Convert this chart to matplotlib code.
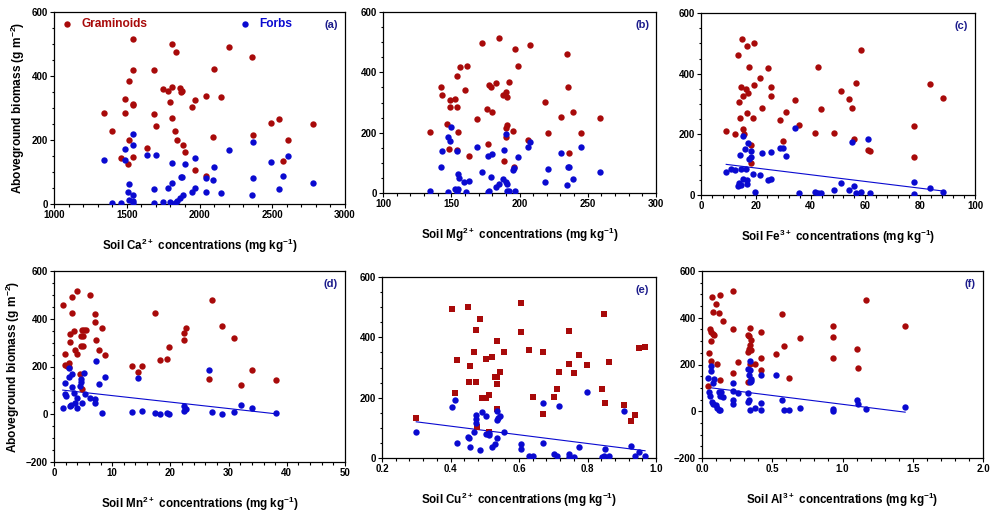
import numpy as np
import matplotlib
matplotlib.use("Agg")
import matplotlib.pyplot as plt
from matplotlib.ticker import AutoMinorLocator, MultipleLocator

plt.rcParams["font.family"] = ["Liberation Sans", "DejaVu Sans"]
plt.rcParams["font.weight"] = "bold"
plt.rcParams["mathtext.fontset"] = "custom"
plt.rcParams["mathtext.bf"] = "Liberation Sans:bold"
plt.rcParams["mathtext.rm"] = "Liberation Sans:bold"
plt.rcParams["mathtext.default"] = "bf"

RED = "#a80a0a"
BLUE = "#0a0ad0"
NAVY = "#1c1c8c"

# (a) Ca
ca_gram_x = [1343, 1402, 1458, 1490, 1490, 1513, 1517, 1508, 1540, 1540, 1540, 1540, 1545, 1642, 1685, 1685,
             1699, 1750, 1784, 1796, 1812, 1812, 1812, 1830, 1837, 1846, 1863, 1874, 1883, 1885, 1897, 1950,
             1966, 1971, 2044, 2044, 2095, 2102, 2145, 2203, 2362, 2366, 2493, 2548, 2571, 2610, 2780]
ca_gram_y = [285, 229, 143, 327, 285, 385, 200, 124, 515, 420, 314, 308, 146, 175, 418, 280,
             245, 359, 352, 319, 499, 367, 270, 227, 476, 201, 364, 351, 354, 183, 163, 304,
             325, 105, 86, 339, 209, 422, 335, 491, 459, 215, 252, 267, 133, 200, 250]
ca_forb_x = [1343, 1402, 1458, 1490, 1490, 1513, 1508, 1517, 1540, 1545, 1540, 1540, 1540, 1642, 1699, 1685,
             1685, 1750, 1784, 1796, 1812, 1812, 1830, 1846, 1863, 1874, 1883, 1885, 1897, 1950, 1966, 1966,
             2044, 2044, 2095, 2102, 2145, 2203, 2362, 2366, 2366, 2493, 2548, 2571, 2610, 2780]
ca_forb_y = [136, 4, 4, 172, 138, 64, 39, 12, 220, 183, 28, 9, 4, 153, 153, 47,
             3, 5, 50, 7, 129, 67, 2, 9, 19, 84, 84, 28, 124, 36, 143, 50,
             81, 36, 75, 116, 34, 170, 27, 80, 194, 131, 47, 87, 151, 67]

# (b) Mg
mg_gram_x = [134.5, 142.5, 143, 147, 148, 149.4, 149, 153, 154, 154.5, 155, 154, 156.5, 160, 161.5, 163,
             169, 172.5, 176, 177, 178, 179, 180, 183, 185, 188, 188.5, 189.8, 190, 190.5, 191, 190,
             192, 195.5, 196, 197, 199, 206, 208, 219, 220.8, 230.6, 234.5, 235.5, 236.5, 239, 244.7, 259]
mg_gram_y = [202, 353, 325, 230, 146, 309, 285, 311, 285, 387, 202, 144, 417, 340, 420, 124,
             245, 498, 280, 163, 358, 353, 270, 363, 514, 324, 105, 335, 215, 227, 318, 184,
             367, 207, 86, 477, 422, 176, 491, 303, 200, 253, 460, 350, 133, 267, 200, 250]
mg_forb_x = [134.5, 142.5, 143, 147.7, 149, 149.6, 147.5, 154, 154.7, 156, 153, 155, 154.5, 159.7, 163, 161,
             169, 172.4, 176.8, 179.7, 179, 176.7, 178, 183, 185, 188, 188.5, 190, 190, 190.5, 190.5, 191.5,
             192.5, 195.5, 196, 199, 197, 206, 208, 219, 220.8, 230.6, 234.5, 235.5, 236.5, 239, 244.7, 259]
mg_forb_y = [8, 85, 139, 185, 174, 220, 3, 138, 64, 49, 14, 13, 4, 36, 41, 4,
             154, 68, 124, 128, 52, 2, 7, 20, 31, 48, 143, 194, 35, 29, 7, 2,
             7, 75, 83, 118, 8, 154, 170, 37, 80, 131, 28, 85, 87, 47, 151, 68]

# (c) Fe
fe_gram_x = [9.2, 12.3, 13.4, 13.8, 14.4, 14.5, 14.9, 15.5, 15.5, 15.8, 16.3, 16.8, 16.8, 17.0, 17.4, 18.1,
             18.1, 19.1, 19.2, 19.5, 21.5, 22.3, 24.6, 25.6, 25.6, 28.7, 29.9, 31.0, 34.3, 35.9, 41.6, 42.6,
             43.9, 48.7, 51.2, 54.0, 55.1, 55.9, 56.6, 58.3, 61.1, 61.8, 77.9, 77.9, 83.6, 88.5]
fe_gram_y = [210, 201, 460, 305, 254, 355, 515, 326, 218, 200, 351, 492, 269, 336, 423, 166,
             107, 254, 500, 361, 387, 286, 418, 355, 328, 247, 177, 273, 312, 232, 204, 423,
             282, 204, 342, 315, 287, 186, 368, 479, 148, 145, 229, 124, 366, 321]
fe_forb_x = [9.2, 11.1, 12.3, 13.4, 13.8, 14.4, 14.6, 14.6, 15.3, 15.5, 15.9, 16.3, 16.7, 16.9, 17.0, 17.4,
             18.1, 18.1, 19.1, 19.6, 21.5, 22.3, 24.6, 25.6, 25.6, 28.7, 29.9, 31.0, 34.3, 35.9, 41.6, 42.6,
             43.9, 48.7, 51.2, 54.0, 55.1, 55.9, 56.6, 58.3, 61.1, 61.8, 77.9, 77.9, 83.6, 88.5]
fe_forb_y = [76, 85, 83, 30, 38, 133, 32, 87, 195, 52, 152, 86, 50, 36, 172, 118,
             146, 124, 70, 9, 66, 139, 50, 52, 141, 156, 156, 130, 222, 8, 10, 8,
             6, 15, 40, 15, 175, 31, 6, 10, 185, 8, 42, 3, 22, 9]

# (d) Mn
mn_gram_x = [1.5, 1.9, 1.9, 2.15, 2.56, 2.6, 2.7, 2.8, 3.05, 3.05, 3.5, 3.66, 3.95, 4.0, 4.5, 4.6,
             4.6, 4.76, 4.76, 4.9, 5.05, 5.2, 5.5, 6.2, 7.0, 7.1, 7.3, 7.8, 8.25, 8.7, 13.4, 14.5,
             15.1, 17.4, 18.2, 19.35, 19.8, 22.3, 22.4, 22.6, 26.6, 27.1, 28.8, 30.9, 32.1, 34.0, 38.2]
mn_gram_y = [459, 252, 207, 204, 197, 216, 335, 303, 491, 422, 349, 268, 517, 252, 167, 326,
             287, 352, 105, 328, 286, 354, 354, 500, 387, 419, 310, 270, 360, 248, 202, 177,
             202, 422, 227, 230, 282, 312, 342, 363, 146, 478, 368, 321, 123, 184, 144]
mn_forb_x = [1.5, 1.9, 1.9, 2.0, 2.56, 2.6, 2.7, 2.85, 3.05, 3.05, 3.5, 3.66, 3.95, 4.0, 4.5, 4.6,
             4.7, 4.76, 5.2, 5.3, 6.2, 7.0, 7.1, 7.3, 7.8, 8.25, 8.7, 13.4, 14.5, 15.1, 17.4, 18.2,
             19.35, 19.8, 22.3, 22.4, 22.6, 26.6, 27.1, 28.8, 30.9, 32.1, 34.0, 38.2]
mn_forb_y = [27, 132, 85, 76, 193, 155, 35, 38, 170, 116, 87, 49, 28, 66, 120, 134,
             146, 49, 174, 85, 69, 64, 49, 221, 128, 6, 155, 8, 153, 14, 6, 0,
             4, 3, 14, 36, 21, 184, 8, 3, 8, 39, 28, 4]

# (e) Cu
cu_gram_x = [0.300, 0.404, 0.413, 0.418, 0.451, 0.454, 0.458, 0.468, 0.475, 0.475, 0.476, 0.487, 0.493, 0.503,
             0.504, 0.511, 0.511, 0.522, 0.530, 0.536, 0.536, 0.536, 0.536, 0.545, 0.557, 0.606, 0.606, 0.628,
             0.640, 0.670, 0.671, 0.703, 0.710, 0.718, 0.746, 0.747, 0.762, 0.776, 0.798, 0.842, 0.849, 0.850,
             0.864, 0.907, 0.928, 0.938, 0.951, 0.968]
cu_gram_y = [134, 493, 216, 325, 501, 251, 304, 350, 423, 252, 104, 460, 199, 199,
             327, 209, 86, 336, 267, 245, 270, 387, 164, 285, 352, 515, 418, 359,
             201, 352, 146, 201, 230, 285, 421, 313, 281, 341, 309, 228, 477, 183,
             319, 176, 124, 144, 364, 368]
cu_forb_x = [0.300, 0.404, 0.413, 0.418, 0.451, 0.454, 0.458, 0.468, 0.475, 0.475, 0.475, 0.487, 0.493, 0.503,
             0.504, 0.511, 0.511, 0.522, 0.530, 0.536, 0.536, 0.536, 0.540, 0.545, 0.557, 0.606, 0.606, 0.628,
             0.640, 0.670, 0.671, 0.703, 0.710, 0.718, 0.746, 0.747, 0.762, 0.776, 0.798, 0.842, 0.849, 0.850,
             0.864, 0.907, 0.928, 0.938, 0.951, 0.968]
cu_forb_y = [87, 170, 193, 50, 69, 67, 38, 85, 144, 130, 116, 28, 152, 139,
             80, 82, 76, 35, 48, 65, 155, 125, 131, 138, 85, 48, 30, 7,
             7, 183, 49, 13, 6, 173, 12, 4, 4, 36, 220, 2, 8, 29,
             8, 155, 40, 6, 20, 6]

# (f) Al
al_gram_x = [0.040, 0.052, 0.054, 0.064, 0.069, 0.066, 0.066, 0.076, 0.078, 0.088, 0.102, 0.107, 0.121, 0.130,
             0.130, 0.152, 0.223, 0.220, 0.223, 0.256, 0.325, 0.329, 0.329, 0.334, 0.334, 0.339, 0.339, 0.344,
             0.346, 0.348, 0.374, 0.417, 0.417, 0.417, 0.529, 0.571, 0.585, 0.619, 0.697, 0.931, 0.931, 0.931,
             1.102, 1.111, 1.166, 1.446]
al_gram_y = [106, 251, 350, 337, 490, 216, 301, 423, 330, 326, 459, 201, 419, 497,
             133, 386, 516, 353, 164, 209, 123, 327, 253, 267, 320, 201, 356, 284,
             264, 304, 201, 340, 229, 176, 246, 417, 280, 144, 313, 366, 319, 227,
             267, 183, 476, 363]
al_forb_x = [0.040, 0.052, 0.054, 0.064, 0.066, 0.069, 0.076, 0.078, 0.088, 0.102, 0.107, 0.121, 0.121, 0.130,
             0.130, 0.135, 0.152, 0.223, 0.220, 0.223, 0.223, 0.256, 0.325, 0.329, 0.329, 0.334, 0.334, 0.339,
             0.339, 0.339, 0.344, 0.346, 0.348, 0.374, 0.417, 0.417, 0.417, 0.529, 0.571, 0.585, 0.619, 0.697,
             0.931, 0.931, 1.102, 1.111, 1.166, 1.446]
al_forb_y = [144, 84, 67, 193, 171, 40, 119, 33, 139, 26, 13, 84, 6, 67,
             4, 84, 63, 121, 86, 50, 30, 76, 181, 80, 41, 47, 153, 217,
             176, 7, 127, 139, 130, 13, 153, 37, 4, 154, 47, 4, 4, 13,
             9, 2, 47, 29, 10, 19]

# forb regression lines (intercept, slope)
fits = {"c": (111.2, -1.11), "d": (105.2, -2.71), "e": (163.1, -143.7), "f": (105.1, -75.4)}

panels = [
    ("a", "Ca", "2+", ca_gram_x, ca_gram_y, ca_forb_x, ca_forb_y, (1000, 3000), 500, (0, 600), "o"),
    ("b", "Mg", "2+", mg_gram_x, mg_gram_y, mg_forb_x, mg_forb_y, (100, 300), 50, (0, 600), "o"),
    ("c", "Fe", "3+", fe_gram_x, fe_gram_y, fe_forb_x, fe_forb_y, (0, 100), 20, (0, 600), "o"),
    ("d", "Mn", "2+", mn_gram_x, mn_gram_y, mn_forb_x, mn_forb_y, (0, 50), 10, (-200, 600), "o"),
    ("e", "Cu", "2+", cu_gram_x, cu_gram_y, cu_forb_x, cu_forb_y, (0.2, 1.0), 0.2, (0, 600), "s"),
    ("f", "Al", "3+", al_gram_x, al_gram_y, al_forb_x, al_forb_y, (0.0, 2.0), 0.5, (-200, 600), "o"),
]

# axes rectangles in figure pixels: left, top, right, bottom
W, H = 992, 517
boxes = {
    "a": (54, 12, 345, 204),
    "b": (383, 12, 656, 193),
    "c": (701, 13, 975, 195),
    "d": (54, 271, 345, 462),
    "e": (382, 277, 656, 458),
    "f": (702, 271, 983, 458),
}

fig = plt.figure(figsize=(W / 100, H / 100), dpi=100)

for key, elem, charge, gx, gy, fx, fy, xlim, xstep, ylim, gmark in panels:
    l, t, r, b = boxes[key]
    ax = fig.add_axes([l / W, 1 - b / H, (r - l) / W, (b - t) / H])
    g = ax.scatter(gx, gy, s=21, marker=gmark, color=RED, linewidths=0, zorder=3, label="Graminoids")
    f = ax.scatter(fx, fy, s=21, marker="o", color=BLUE, linewidths=0, zorder=3, label="Forbs")
    if key in fits:
        b0, b1 = fits[key]
        xs = np.array([min(fx), max(fx)])
        ax.plot(xs, b0 + b1 * xs, color=BLUE, lw=0.8, zorder=2)

    ax.set_xlim(*xlim)
    ax.set_ylim(*ylim)
    ax.xaxis.set_major_locator(MultipleLocator(xstep))
    ax.yaxis.set_major_locator(MultipleLocator(200))
    ax.xaxis.set_minor_locator(AutoMinorLocator(5))
    ax.yaxis.set_minor_locator(AutoMinorLocator(4))
    ax.tick_params(which="major", direction="out", length=3, width=0.8, labelsize=7, pad=1.5)
    ax.tick_params(which="minor", direction="out", length=1.8, width=0.8)
    for sp in ax.spines.values():
        sp.set_linewidth(0.9)

    ax.set_xlabel(f"Soil {elem}$^{{{charge}}}$ concentrations (mg kg$^{{-1}}$)",
                  fontsize=8.4, fontweight="bold", labelpad=12)
    if key in ("a", "d"):
        ax.set_ylabel("Aboveground biomass (g m$^{-2}$)", fontsize=8.6, fontweight="bold", labelpad=3)
    ax.text(0.975, 0.93, f"({key})", transform=ax.transAxes, ha="right", va="center",
            fontsize=8, fontweight="bold", color=NAVY)

    if key == "a":
        leg1 = ax.legend(handles=[g], loc="upper left", bbox_to_anchor=(0.005, 1.0), frameon=False,
                         handlelength=1.0, handletextpad=0.7, borderaxespad=0.2, borderpad=0.3,
                         prop={"size": 8.6, "weight": "bold"}, labelcolor=RED)
        ax.add_artist(leg1)
        ax.legend(handles=[f], loc="upper left", bbox_to_anchor=(0.615, 1.0), frameon=False,
                  handlelength=1.0, handletextpad=0.7, borderaxespad=0.2, borderpad=0.3,
                  prop={"size": 8.6, "weight": "bold"}, labelcolor=BLUE)

fig.savefig("out.png", dpi=100)
